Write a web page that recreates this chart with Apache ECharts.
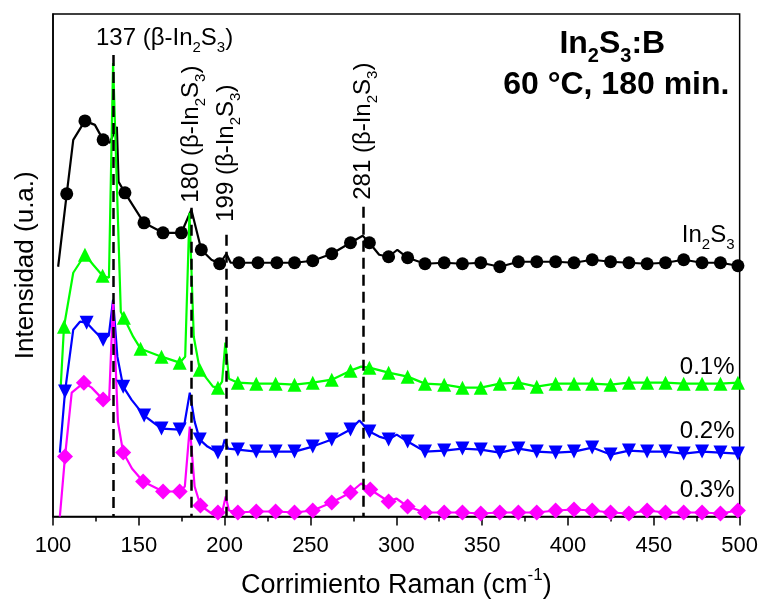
<!DOCTYPE html>
<html><head><meta charset="utf-8">
<script src="https://cdn.jsdelivr.net/npm/echarts@6.0.0/dist/echarts.min.js"></script>
<style>html,body{margin:0;padding:0;background:#fff}#c{width:761px;height:604px}</style>
</head><body><div id="c"></div>
<script>
// ---- data (x = Raman shift cm-1, y = offset intensity a.u., m = 1 where a marker is drawn)
const xTicks = [100, 150, 200, 250, 300, 350, 400, 450, 500];
const seriesNames = ['In2S3', '0.1%', '0.2%', '0.3%'];
const peakPos = [135, 180.5, 201, 281];
const peakText = ['137', '180', '199', '281'];
const peakTop = [462, 309, 282, 310];

const dataIn2S3 = [
 [103,250,0],[108,323,1],[111.8,377,0],[118.6,396,1],[124.4,392,0],[129.2,377,1],[133,374,0],
 [137.2,390,0],[138.2,335,0],[141.9,324,1],[153,294,1],[164.1,284,1],[174.8,284,1],[180.6,307,0],
 [186.4,267,1],[192.3,257,0],[197.1,253,1],[201,263,0],[203.5,254,0],[208.3,254,1],[219.4,254,1],
 [230.4,254,1],[240.7,254,1],[251.3,256,1],[262.4,263,1],[273.3,274,1],[280.4,281,0],[284.3,274,1],
 [290,262,0],[295.5,260,1],[300.6,267,0],[306.6,259,1],[316.7,253,1],[327.9,254,1],[338.5,253,1],
 [349.2,254,1],[360.3,250,1],[371.1,255,1],[381.8,255,1],[392.8,255,1],[403.5,254,1],[414.1,257,1],
 [424.8,255,1],[435.5,254,1],[446.1,253,1],[456.8,254,1],[467.4,257,1],[478.1,254,1],[488.8,254,1],
 [499,251,1],[500,252,0]
];
const dataB01 = [
 [104.5,130,0],[106.4,190,1],[111.8,244,0],[118.6,262,1],[123.4,252,0],[128.9,241,1],[132.6,239,0],
 [135,454,0],[139.5,205,0],[141.3,199,1],[146.7,180,0],[151,168,1],[163.2,160,1],[173.8,154,1],
 [177,160,0],[179.5,304,0],[182,180,0],[185.5,147,1],[193.2,130,0],[196.1,129,1],[198.5,135,0],
 [200.4,174,0],[202.5,138,0],[207.7,134,1],[218.4,133,1],[229.7,133,1],[240.7,132,1],[251.3,134,1],
 [262.4,137,1],[273.3,146,1],[279.5,150,0],[284.3,149,1],[295.5,144,1],[306.6,140,1],[316.7,133,1],
 [327.9,132,1],[338.5,129,1],[349.2,129,1],[360.3,133,1],[371.1,134,1],[381.8,130,1],[392.8,133,1],
 [403.5,133,1],[414.1,133,1],[424.8,132,1],[435.5,134,1],[446.1,134,1],[456.8,134,1],[467.4,133,1],
 [478.1,133,1],[488.8,133,1],[499,134,1],[500,134,0]
];
const dataB02 = [
 [104,64,0],[107,125,1],[111.8,187,0],[115.7,195,0],[119.6,194,1],[123.4,187,0],[129.2,177,1],
 [132.5,181,0],[135,217,0],[137.5,160,0],[140.9,130,1],[145.7,117,0],[153.1,101,1],[163.2,88,1],
 [173.8,87,1],[176.5,92,0],[179.7,124,0],[182.5,95,0],[185.5,77,1],[190,70,0],[196.1,64,1],
 [198.5,67,0],[200,77,0],[202,68,0],[207.7,67,1],[218.4,65,1],[229.7,65,1],[240.7,65,1],[251.3,70,1],
 [262.4,77,1],[273.3,87,1],[278.5,96,0],[284.3,85,1],[290,80,0],[295.5,77,1],[300.2,82,0],[306.6,75,1],
 [316.7,65,1],[327.9,66,1],[338.5,68,1],[349.2,67,1],[360.3,64,1],[371.1,68,1],[381.8,65,1],[392.8,64,1],
 [403.5,65,1],[414.1,69,1],[424.8,62,1],[435.5,66,1],[446.1,65,1],[456.8,65,1],[467.4,63,1],[478.1,65,1],
 [488.8,64,1],[499,63,1],[500,63,0]
];
const dataB03 = [
 [104,0,0],[107,60,1],[110.9,124,0],[118,134,1],[122.5,129,0],[129.2,117,1],[132.7,117,0],[135,215,0],
 [137.8,95,0],[140.9,64,1],[146,48,0],[152.5,35,1],[164.1,25,1],[173.8,25,1],[176.8,30,0],[179.7,90,0],
 [182.5,30,0],[185.9,11,1],[193.2,2,0],[196.1,4,1],[198.8,6,0],[200.6,20,0],[202.5,6,0],[207.7,4,1],
 [218.4,5,1],[229.7,5,1],[240.7,4,1],[251.3,6,1],[262.4,14,1],[273.3,24,1],[279.5,33,0],[284.8,27,1],
 [295.5,15,1],[300,18,0],[306.6,10,1],[316.7,4,1],[327.9,4,1],[338.5,4,1],[349.2,3,1],[360.3,4,1],
 [371.1,4,1],[381.8,4,1],[392.8,6,1],[403.5,7,1],[414.1,6,1],[424.8,4,1],[435.5,3,1],[446.1,6,1],
 [456.8,4,1],[467.4,4,1],[478.1,4,1],[488.8,3,1],[499,6,1],[500,6,0]
];

// ---- styling
const FONT = '"Liberation Sans", Arial, Helvetica, sans-serif';
function rich(f, bold, colorKey) {
  const w = bold ? 'bold' : 'normal';
  const s = Math.round(f * 0.62);
  const c = {}; c[colorKey] = '#000';
  return {
    n: Object.assign({fontSize: f, fontFamily: FONT, fontWeight: w, lineHeight: Math.round(f * 1.4)}, c),
    b: Object.assign({fontSize: s, fontFamily: FONT, fontWeight: w, verticalAlign: 'bottom'}, c),
    p: Object.assign({fontSize: s, fontFamily: FONT, fontWeight: w, verticalAlign: 'top'}, c)
  };
}
const in2s3 = '{n|In}{b|2}{n|S}{b|3}';
function peakLabel(t) { return '{n|' + t + ' (β-In}{b|2}{n|S}{b|3}{n|)}'; }

function mk(data, color, symbol, size, rotate) {
  return {
    type: 'line', showAllSymbol: true, clip: false, z: 2,
    lineStyle: {color: color, width: 2.2},
    itemStyle: {color: color},
    symbolSize: size, symbolRotate: rotate || 0,
    emphasis: {disabled: true},
    data: data.map(d => ({value: [d[0], d[1]], symbol: d[2] ? symbol : 'none'}))
  };
}

const chart = echarts.init(document.getElementById('c'), null, {renderer: 'canvas'});
const option = {
  animation: false,
  backgroundColor: '#fff',
  grid: {left: 53, right: 20, top: 14, bottom: 87, show: true, borderColor: '#000', borderWidth: 1.5, backgroundColor: 'transparent'},
  xAxis: {
    type: 'value', min: 100, max: 500, interval: 50,
    axisLine: {lineStyle: {color: '#000', width: 1.5}},
    axisTick: {length: 9, lineStyle: {color: '#000', width: 1.5}},
    minorTick: {show: true, splitNumber: 2, length: 5, lineStyle: {color: '#000', width: 1.5}},
    splitLine: {show: false}, minorSplitLine: {show: false},
    axisLabel: {color: '#000', fontSize: 22, fontFamily: FONT, margin: 18,
      customValues: xTicks},
    name: '{n|Corrimiento Raman (cm}{p|-1}{n|)}',
    nameLocation: 'middle', nameGap: 50,
    nameTextStyle: {rich: rich(27, false, 'color')}
  },
  yAxis: {
    type: 'value', min: 0, max: 503,
    axisLine: {show: true, lineStyle: {color: '#000', width: 1.5}},
    axisTick: {show: false}, axisLabel: {show: false}, splitLine: {show: false},
    name: 'Intensidad (u.a.)', nameLocation: 'middle', nameGap: 14,
    nameTextStyle: {color: '#000', fontSize: 26, fontFamily: FONT}
  },
  series: [
    mk(dataIn2S3, '#000000', 'circle', 13),
    mk(dataB01, '#00ff00', 'triangle', 14),
    mk(dataB02, '#0000ff', 'triangle', 14, 180),
    mk(dataB03, '#ff00ff', 'diamond', 16),
    {
      type: 'line', data: [], z: 5, silent: true,
      markLine: {
        symbol: 'none', silent: true, animation: false, label: {show: false},
        lineStyle: {color: '#000', width: 2.5, type: [11, 6]},
        data: peakPos.map((p, i) => [{coord: [p, peakTop[i]]}, {coord: [p, 0]}])
      }
    }
  ]
};
chart.setOption(option);

// ---- annotations placed through the chart's own scales
const P = (x, y) => chart.convertToPixel({gridIndex: 0}, [x, y]);
const g = [];
const rPeak = rich(24, false, 'fill');
{
  const a = P(165, 479);
  g.push({type: 'text', x: a[0], y: a[1], z: 10,
    style: {text: peakLabel(peakText[0]), rich: rPeak, align: 'center', verticalAlign: 'middle'}});
}
const rotBottom = [null, 314, 295, 317];
for (let i = 1; i < 4; i++) {
  const a = P(peakPos[i], rotBottom[i]);
  g.push({type: 'text', x: a[0], y: a[1], rotation: Math.PI / 2, z: 10,
    style: {text: peakLabel(peakText[i]), rich: rPeak, align: 'left', verticalAlign: 'middle'}});
}
const rSer = rich(24, false, 'fill');
const serY = [281, 149, 85, 26];
const serTxt = [in2s3, '{n|0.1%}', '{n|0.2%}', '{n|0.3%}'];
for (let i = 0; i < 4; i++) {
  const a = P(497, serY[i]);
  g.push({type: 'text', x: a[0], y: a[1], z: 10,
    style: {text: serTxt[i], rich: rSer, align: 'right', verticalAlign: 'middle'}});
}
const rT = rich(32, true, 'fill');
{
  const a = P(420, 473), b = P(420, 432);
  g.push({type: 'text', x: a[0] + 10, y: a[1], z: 10,
    style: {text: '{n|In}{b|2}{n|S}{b|3}{n|:B}', rich: rT, align: 'center', verticalAlign: 'middle'}});
  g.push({type: 'text', x: b[0] + 14, y: b[1], z: 10,
    style: {text: '{n|60 °C, 180 min.}', rich: rT, align: 'center', verticalAlign: 'middle'}});
}
chart.setOption({graphic: g});
</script></body></html>
